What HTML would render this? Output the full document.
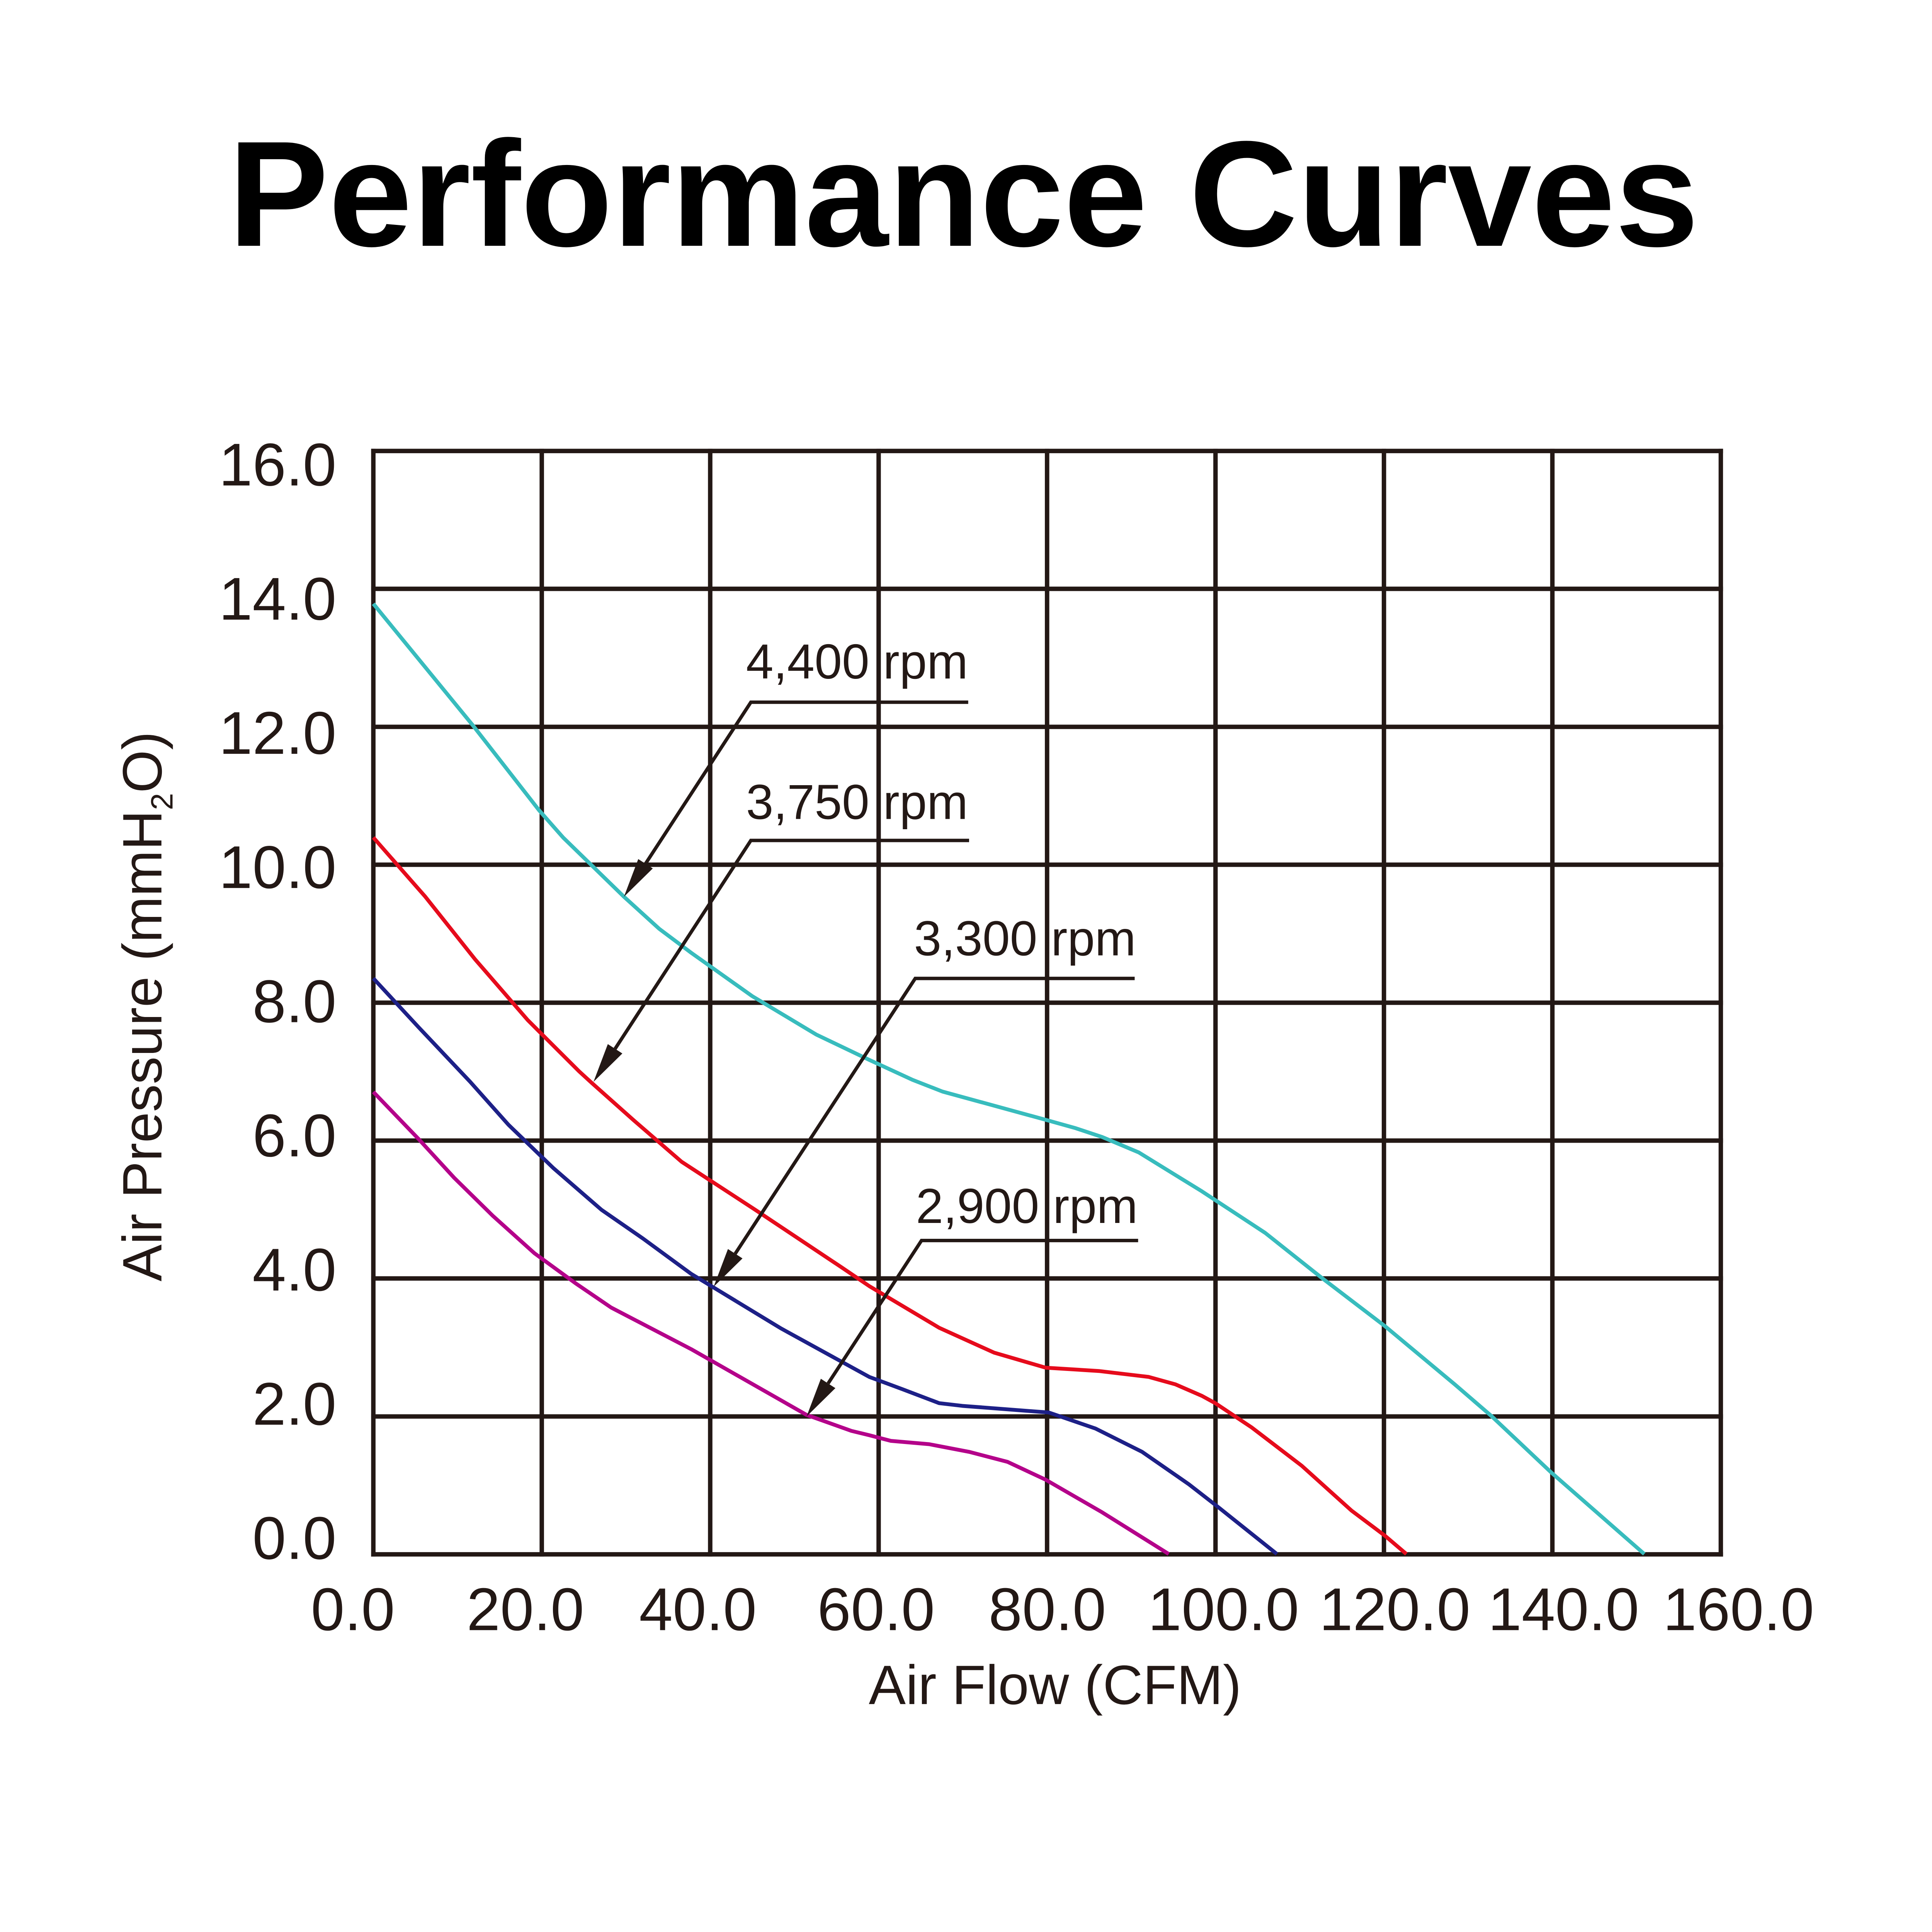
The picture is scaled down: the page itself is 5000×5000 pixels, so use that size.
<!DOCTYPE html>
<html>
<head>
<meta charset="utf-8">
<style>
  html, body { margin: 0; padding: 0; background: #ffffff; }
  svg { display: block; }
</style>
</head>
<body>
<svg xmlns="http://www.w3.org/2000/svg" width="5000" height="5000" viewBox="0 0 1568 1568">
  <rect x="0" y="0" width="1568" height="1568" fill="#ffffff"/>

  <!-- Title -->
  <text x="185.3" y="199.5" font-family="'Liberation Sans', Arial, sans-serif" font-weight="bold" font-size="122" fill="#000000">Performance Curves</text>

  <!-- Grid -->
  <g stroke="#231815" stroke-width="3.6" fill="none" stroke-linecap="square">
    <line x1="303" y1="366" x2="303" y2="1261.5"/>
    <line x1="439.7" y1="366" x2="439.7" y2="1261.5"/>
    <line x1="576.4" y1="366" x2="576.4" y2="1261.5"/>
    <line x1="713.1" y1="366" x2="713.1" y2="1261.5"/>
    <line x1="849.8" y1="366" x2="849.8" y2="1261.5"/>
    <line x1="986.5" y1="366" x2="986.5" y2="1261.5"/>
    <line x1="1123.2" y1="366" x2="1123.2" y2="1261.5"/>
    <line x1="1259.9" y1="366" x2="1259.9" y2="1261.5"/>
    <line x1="1396.6" y1="366" x2="1396.6" y2="1261.5"/>

    <line x1="303" y1="366" x2="1396.6" y2="366"/>
    <line x1="303" y1="477.9" x2="1396.6" y2="477.9"/>
    <line x1="303" y1="589.9" x2="1396.6" y2="589.9"/>
    <line x1="303" y1="701.8" x2="1396.6" y2="701.8"/>
    <line x1="303" y1="813.8" x2="1396.6" y2="813.8"/>
    <line x1="303" y1="925.7" x2="1396.6" y2="925.7"/>
    <line x1="303" y1="1037.6" x2="1396.6" y2="1037.6"/>
    <line x1="303" y1="1149.6" x2="1396.6" y2="1149.6"/>
    <line x1="303" y1="1261.5" x2="1396.6" y2="1261.5"/>
  </g>

  <!-- Curves -->
  <g fill="none" stroke-width="3.1" stroke-linejoin="round" stroke-linecap="butt">
    <polyline stroke="#38bcbd" points="303,490 384,589 437.5,657.6 457,679.7 506.4,727.8 535,753.8 561,773.3 610.4,808.4 662.4,839.6 705.5,860.2 740.6,876.4 764.9,885.9 848.6,908.8 872.9,915.6 894.5,922.8 924.2,935.3 975.5,966.9 1026.8,1000.6 1072.6,1037 1123.9,1076.2 1180.6,1123.5 1210.3,1149.1 1258.9,1195 1334.5,1261.2"/>
    <polyline stroke="#e60b1c" points="303,679.7 345.2,727.8 385.5,778.5 428.4,828 470,869.5 480.4,879 514.2,909.1 553.2,942.9 613,981.9 683.2,1028.7 705.5,1043.8 762.2,1077.6 806.8,1097.8 848.6,1110 891.8,1112.7 932.3,1117.5 953.9,1123.5 975.5,1132.9 986.3,1138.8 1016,1158.6 1056.5,1189.6 1096.9,1226 1123.9,1246.3 1141.4,1261.2"/>
    <polyline stroke="#1d2087" points="303,794 340,834 381.6,878 412.8,913 449.2,948.1 488.2,981.9 522,1005.3 561,1033.9 633.8,1078.1 705.5,1117.5 732.5,1127.5 762.2,1138.8 781.1,1141 851.3,1146.4 889.1,1159.4 926.9,1178.3 964.7,1204.5 989,1223.4 1036.3,1261.2"/>
    <polyline stroke="#b4028a" points="303,886.2 340,924.7 368.6,955.9 399.8,986.6 433.6,1017 467.4,1041.7 496,1061.2 561,1095 654.6,1148.3 691,1161.3 705.5,1164.8 723,1169.4 754.1,1172.1 786.5,1178.3 817.6,1186.4 848.6,1200.9 894.5,1227.4 948.5,1261.2"/>
  </g>

  <!-- Annotation leaders -->
  <g stroke="#231815" stroke-width="2.8" fill="none" stroke-linejoin="miter">
    <polyline points="785.8,569.9 609.4,569.9 523.9,701.0"/>
    <polyline points="786.5,682.1 609.4,682.1 499.2,851.2"/>
    <polyline points="920.9,794.1 742.8,794.1 596.7,1017.5"/>
    <polyline points="923.7,1006.8 747.9,1006.8 672.1,1122.8"/>
  </g>
  <g fill="#231815" stroke="none">
    <polygon points="506.4,727.8 518.0,697.2 529.8,704.8"/>
    <polygon points="481.7,878 493.3,847.4 505.1,855.0"/>
    <polygon points="579.2,1044.3 590.8,1013.7 602.6,1021.3"/>
    <polygon points="654.6,1149.6 666.2,1119.0 678.0,1126.6"/>
  </g>

  <!-- Annotation text -->
  <g font-family="'Liberation Sans', Arial, sans-serif" font-size="40" fill="#231815">
    <text x="605.5" y="550.7">4,400 rpm</text>
    <text x="605.5" y="664.7">3,750 rpm</text>
    <text x="741.8" y="775.3">3,300 rpm</text>
    <text x="743.3" y="992.5">2,900 rpm</text>
  </g>

  <!-- Y tick labels -->
  <g font-family="'Liberation Sans', Arial, sans-serif" font-size="49" fill="#231815" text-anchor="end">
    <text x="273" y="394.0">16.0</text>
    <text x="273" y="502.9">14.0</text>
    <text x="273" y="611.8">12.0</text>
    <text x="273" y="720.7">10.0</text>
    <text x="273" y="829.6">8.0</text>
    <text x="273" y="938.5">6.0</text>
    <text x="273" y="1047.4">4.0</text>
    <text x="273" y="1156.3">2.0</text>
    <text x="273" y="1265.2">0.0</text>
  </g>

  <!-- X tick labels -->
  <g font-family="'Liberation Sans', Arial, sans-serif" font-size="49" fill="#231815" text-anchor="middle">
    <text x="286.4" y="1323">0.0</text>
    <text x="426.4" y="1323">20.0</text>
    <text x="566.4" y="1323">40.0</text>
    <text x="711" y="1323">60.0</text>
    <text x="850" y="1323">80.0</text>
    <text x="993" y="1323">100.0</text>
    <text x="1132" y="1323">120.0</text>
    <text x="1269" y="1323">140.0</text>
    <text x="1411" y="1323">160.0</text>
  </g>

  <!-- Axis titles -->
  <text x="856.3" y="1383" text-anchor="middle" font-family="'Liberation Sans', Arial, sans-serif" font-size="45" fill="#231815">Air Flow (CFM)</text>

  <text transform="translate(131,1040) rotate(-90)" font-family="'Liberation Sans', Arial, sans-serif" font-size="45" fill="#231815">Air Pressure (mmH<tspan font-size="25" dy="9">2</tspan><tspan dy="-9">O)</tspan></text>
</svg>
</body>
</html>
